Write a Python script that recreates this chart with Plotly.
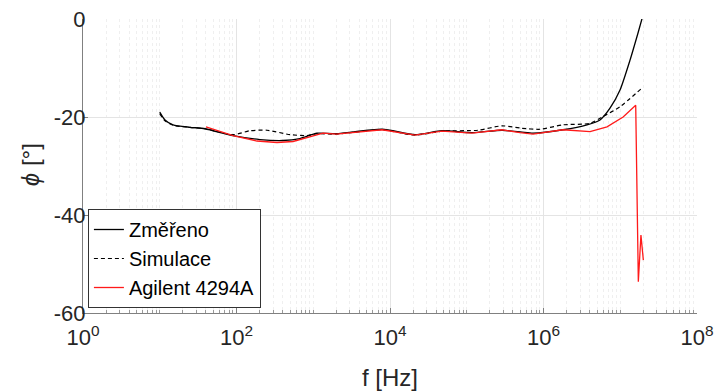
import plotly.graph_objects as go

# Změřeno (measured)
f_meas = [10, 11.7, 14.9, 24.8, 38.9, 90, 202, 403, 672, 1120, 2000, 7870, 21200,
          47600, 117000, 288000, 525000, 730000, 1.79e6, 3.69e6, 5.45e6, 7.35e6,
          9.93e6, 1.34e7, 1.70e7, 1.98e7]
phi_meas = [-19.0, -20.6, -21.6, -22.1, -22.4, -23.8, -24.6, -24.8, -24.4, -23.3, -23.4,
            -22.5, -23.6, -22.8, -23.2, -22.7, -23.1, -23.3, -22.6, -21.6, -20.6, -18.2,
            -14.5, -8.4, -2.9, 0.8]

# Simulace (simulation)
f_sim = [10, 11.7, 14.9, 24.8, 38.9, 90, 150, 250, 498, 829, 1120, 2000, 7870, 21200,
         47600, 140000, 288000, 525000, 900000, 1.79e6, 4.04e6, 5.96e6, 9.93e6, 1.92e7]
phi_sim = [-19.3, -20.8, -21.7, -22.1, -22.4, -23.6, -22.8, -22.7, -23.6, -23.8, -23.4,
           -23.5, -22.6, -23.7, -22.9, -22.7, -21.8, -22.3, -22.5, -21.6, -21.3, -19.9,
           -17.9, -14.1]

# Agilent 4294A
f_agi = [40, 90, 185, 337, 545, 907, 1340, 2000, 7870, 21200, 47600, 117000, 288000,
         494000, 730000, 1.79e6, 4.04e6, 6.72e6, 1.09e7, 1.59e7, 1.72e7, 1.86e7, 2.0e7]
phi_agi = [-22.0, -23.8, -24.9, -25.2, -25.0, -24.0, -23.3, -23.5, -22.6, -23.7, -22.9,
           -23.3, -22.6, -23.2, -23.5, -22.6, -23.0, -22.0, -20.0, -17.6, -53.6, -44.1, -49.2]

x_tickvals = [1, 1e2, 1e4, 1e6, 1e8]
x_ticktext = ["10<sup>0</sup>", "10<sup>2</sup>", "10<sup>4</sup>", "10<sup>6</sup>", "10<sup>8</sup>"]
y_tickvals = [-60, -40, -20, 0]
y_ticktext = ["-60", "-40", "-20", "0"]

minor_vals = [k * 10 ** d for d in range(0, 8) for k in range(1, 10)
              if not (k == 1 and d % 2 == 0)]

FONT = "Liberation Sans, Arial, sans-serif"

fig = go.Figure()
fig.add_trace(go.Scatter(x=f_meas, y=phi_meas, mode="lines", name="Změřeno",
                         line=dict(color="black", width=1.3, shape="spline", smoothing=0.6)))
fig.add_trace(go.Scatter(x=f_sim, y=phi_sim, mode="lines", name="Simulace",
                         line=dict(color="black", width=1.2, dash="4px,3px", shape="spline", smoothing=0.6)))
fig.add_trace(go.Scatter(x=f_agi, y=phi_agi, mode="lines", name="Agilent 4294A",
                         line=dict(color="#ff1a1a", width=1.3)))

fig.update_layout(
    width=720, height=392,
    margin=dict(l=83, r=23, t=19, b=79),
    paper_bgcolor="white", plot_bgcolor="white",
    font=dict(family=FONT, size=22, color="#262626"),
    showlegend=True,
    legend=dict(x=0.008, y=0.017, xanchor="left", yanchor="bottom",
                bgcolor="white", bordercolor="#333333", borderwidth=1,
                font=dict(family=FONT, size=20, color="black"),
                tracegroupgap=0, itemwidth=30),
    xaxis=dict(type="log", range=[0, 8], tickmode="array", tickvals=x_tickvals,
               ticktext=x_ticktext, showgrid=True, gridcolor="#e4e4e4", gridwidth=1,
               showline=True, linecolor="#808080", linewidth=1, ticks="inside",
               ticklen=5, tickcolor="#808080", zeroline=False, ticklabelstandoff=5,
               automargin=False,
               tickfont=dict(family=FONT, size=22, color="#262626"),
               minor=dict(tickmode="array", tickvals=minor_vals, showgrid=True,
                          gridcolor="#efefef", griddash="dot", ticks="inside",
                          ticklen=3, tickcolor="#999999")),
    yaxis=dict(range=[-60, 0], tickmode="array", tickvals=y_tickvals, ticktext=y_ticktext,
               showgrid=True, gridcolor="#e4e4e4", gridwidth=1,
               showline=True, linecolor="#808080", linewidth=1, ticks="inside",
               ticklen=5, tickcolor="#808080", zeroline=False, ticklabelstandoff=-8,
               automargin=False,
               tickfont=dict(family=FONT, size=22, color="#262626")),
    annotations=[
        dict(text="f [Hz]", xref="paper", yref="paper", x=0.5, y=-0.221,
             xanchor="center", yanchor="middle", showarrow=False,
             font=dict(family=FONT, size=24, color="#262626")),
        dict(text="<i>ϕ</i> [°]", xref="paper", yref="paper", x=-0.0863, y=0.503,
             xanchor="center", yanchor="middle", showarrow=False, textangle=-90,
             font=dict(family=FONT, size=24, color="#262626")),
    ],
)

fig.write_html("out.html")
